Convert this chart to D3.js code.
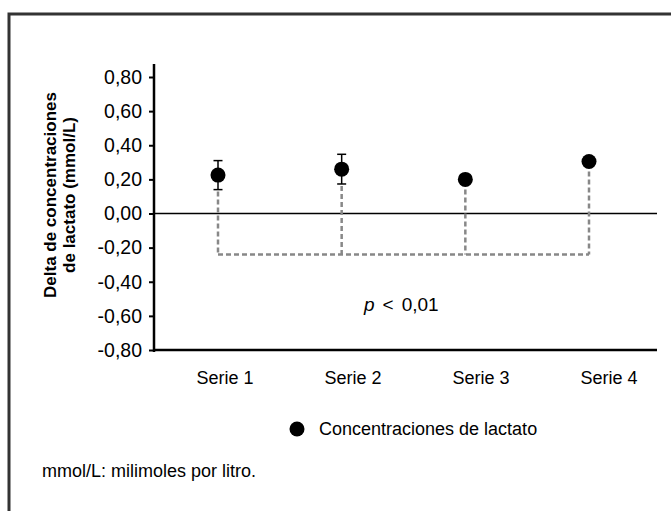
<!DOCTYPE html>
<html><head><meta charset="utf-8">
<script src="https://cdn.jsdelivr.net/npm/d3@7/dist/d3.min.js"></script>
<style>
html,body{margin:0;padding:0;background:#fff;}
text{font-family:"Liberation Sans",Arial,sans-serif;}
</style></head>
<body>
<svg id="c" width="671" height="511"></svg>
<script>
const categories = ["Serie 1","Serie 2","Serie 3","Serie 4"];
const values = [0.225, 0.26, 0.20, 0.305];
const errors = [0.085, 0.087, 0, 0];
const yTicks = [0.8,0.6,0.4,0.2,0,-0.2,-0.4,-0.6,-0.8];
const bracketValue = -0.24;
const seriesName = "Concentraciones de lactato";
const yTitle = ["Delta de concentraciones","de lactato (mmol/L)"];
const pLabel = ["p", "<", "0,01"];
const footnote = "mmol/L: milimoles por litro.";

const svg = d3.select("#c");
const W = 671, H = 511;
const plotLeft = 154, plotRight = 657;

const y = d3.scaleLinear().domain([-0.8, 0.8]).range([350, 77]);
const x = d3.scalePoint().domain(categories).range([218, 589]);
const xLab = d3.scalePoint().domain(categories).range([225, 609]);
const fmt = v => d3.format(".2f")(v).replace(".", ",").replace("−","-");

// frame
svg.append("path").attr("d", `M9,${H} L9,14 L${W},14`)
  .attr("fill","none").attr("stroke","#333").attr("stroke-width",3);

// y axis
const yAxis = d3.axisLeft(y).tickValues(yTicks).tickFormat(fmt).tickSize(5).tickPadding(7);
const gy = svg.append("g").attr("transform",`translate(${plotLeft},0)`).call(yAxis);
gy.select(".domain").remove();
gy.selectAll(".tick line").attr("stroke","#000").attr("stroke-width",2);
gy.selectAll(".tick text").attr("font-size",19.5).attr("fill","#000")
  .style("font-family",'"Liberation Sans",Arial,sans-serif');
svg.append("line").attr("x1",plotLeft).attr("x2",plotLeft)
  .attr("y1",y(0.8)-13).attr("y2",y(-0.8)+2)
  .attr("stroke","#000").attr("stroke-width",2.5);

// bottom axis line
svg.append("line").attr("x1",plotLeft).attr("x2",plotRight)
  .attr("y1",y(-0.8)).attr("y2",y(-0.8))
  .attr("stroke","#000").attr("stroke-width",2.5);
// zero line
svg.append("line").attr("x1",plotLeft).attr("x2",plotRight)
  .attr("y1",y(0)).attr("y2",y(0))
  .attr("stroke","#000").attr("stroke-width",1.5);

// x labels
svg.append("g").selectAll("text").data(categories).join("text")
  .attr("x", d => xLab(d)).attr("y", 384)
  .attr("text-anchor","middle").attr("font-size",18).attr("fill","#000")
  .text(d => d);

// dashed bracket
const dash = "5,3";
const data = categories.map((c,i)=>({c, v:values[i], e:errors[i]}));
svg.append("line")
  .attr("x1", x(categories[0])).attr("x2", x(categories[categories.length-1]))
  .attr("y1", y(bracketValue)).attr("y2", y(bracketValue))
  .attr("stroke","#888").attr("stroke-width",2.5).attr("stroke-dasharray",dash);
svg.append("g").selectAll("line").data(data).join("line")
  .attr("x1", d=>x(d.c)).attr("x2", d=>x(d.c))
  .attr("y1", d=> Math.max(y(d.v - d.e), y(d.v)+8) + 2)
  .attr("y2", y(bracketValue))
  .attr("stroke","#888").attr("stroke-width",2.5).attr("stroke-dasharray",dash);

// error bars
const eb = svg.append("g").selectAll("g").data(data.filter(d=>d.e>0)).join("g");
eb.append("line").attr("x1",d=>x(d.c)).attr("x2",d=>x(d.c))
  .attr("y1",d=>y(d.v+d.e)).attr("y2",d=>y(d.v-d.e))
  .attr("stroke","#000").attr("stroke-width",1.5);
eb.append("line").attr("x1",d=>x(d.c)-4.5).attr("x2",d=>x(d.c)+4.5)
  .attr("y1",d=>y(d.v+d.e)).attr("y2",d=>y(d.v+d.e))
  .attr("stroke","#000").attr("stroke-width",1.5);
eb.append("line").attr("x1",d=>x(d.c)-4.5).attr("x2",d=>x(d.c)+4.5)
  .attr("y1",d=>y(d.v-d.e)).attr("y2",d=>y(d.v-d.e))
  .attr("stroke","#000").attr("stroke-width",1.5);

// points
svg.append("g").selectAll("circle").data(data).join("circle")
  .attr("cx",d=>x(d.c)).attr("cy",d=>y(d.v)).attr("r",7.5).attr("fill","#000");

// p label
const pt = svg.append("text").attr("x",364).attr("y",311)
  .attr("text-anchor","start").attr("font-size",19).attr("fill","#000");
pt.append("tspan").attr("font-style","italic").text(pLabel[0]);
pt.append("tspan").attr("dx",8).text(pLabel[1]);
pt.append("tspan").attr("dx",8).text(pLabel[2]);

// y title
const yt = svg.append("text").attr("transform","translate(56,195) rotate(-90)")
  .attr("text-anchor","middle").attr("font-size",17).attr("font-weight","bold").attr("fill","#000");
yt.append("tspan").attr("x",0).attr("y",0).text(yTitle[0]);
yt.append("tspan").attr("x",0).attr("y",19).text(yTitle[1]);

// legend
svg.append("circle").attr("cx",297).attr("cy",429).attr("r",7.5).attr("fill","#000");
svg.append("text").attr("x",319).attr("y",435).attr("font-size",18).attr("fill","#000").text(seriesName);

// footnote
svg.append("text").attr("x",42).attr("y",477).attr("font-size",18).attr("fill","#000").text(footnote);
</script>
</body></html>
